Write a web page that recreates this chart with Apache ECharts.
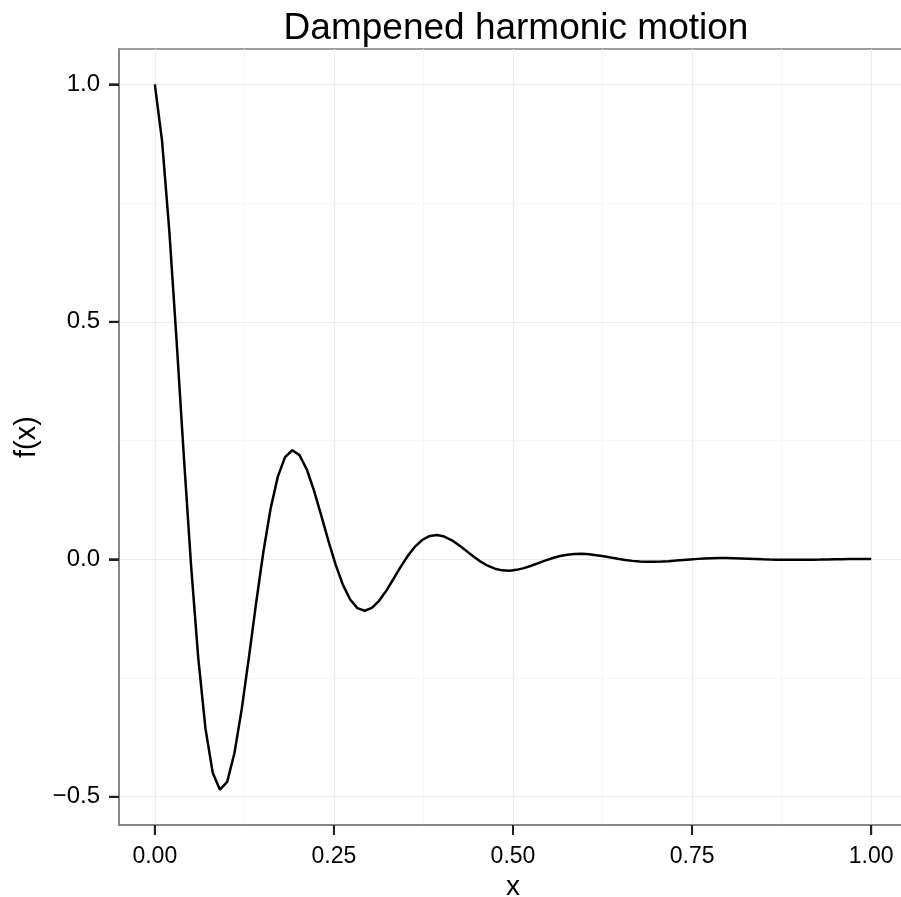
<!DOCTYPE html>
<html>
<head>
<meta charset="utf-8">
<script src="https://cdn.jsdelivr.net/npm/echarts@6/dist/echarts.min.js"></script>
<style>
html,body{margin:0;padding:0;background:#fff;overflow:hidden;}
#chart{width:901px;height:897px;}
</style>
</head>
<body>
<div id="chart"></div>
<script>
var titleText = 'Dampened harmonic motion';
var xName = 'x';
var yName = 'f(x)';

var xValues = [
  0.0000, 0.0101, 0.0202, 0.0303, 0.0404, 0.0505, 0.0606, 0.0707, 0.0808, 0.0909,
  0.1010, 0.1111, 0.1212, 0.1313, 0.1414, 0.1515, 0.1616, 0.1717, 0.1818, 0.1919,
  0.2020, 0.2121, 0.2222, 0.2323, 0.2424, 0.2525, 0.2626, 0.2727, 0.2828, 0.2929,
  0.3030, 0.3131, 0.3232, 0.3333, 0.3434, 0.3535, 0.3636, 0.3737, 0.3838, 0.3939,
  0.4040, 0.4141, 0.4242, 0.4343, 0.4444, 0.4545, 0.4646, 0.4747, 0.4848, 0.4949,
  0.5051, 0.5152, 0.5253, 0.5354, 0.5455, 0.5556, 0.5657, 0.5758, 0.5859, 0.5960,
  0.6061, 0.6162, 0.6263, 0.6364, 0.6465, 0.6566, 0.6667, 0.6768, 0.6869, 0.6970,
  0.7071, 0.7172, 0.7273, 0.7374, 0.7475, 0.7576, 0.7677, 0.7778, 0.7879, 0.7980,
  0.8081, 0.8182, 0.8283, 0.8384, 0.8485, 0.8586, 0.8687, 0.8788, 0.8889, 0.8990,
  0.9091, 0.9192, 0.9293, 0.9394, 0.9495, 0.9596, 0.9697, 0.9798, 0.9899, 1.0000
];

var fValues = [
  1.0000, 0.8808, 0.6921, 0.4622, 0.2193, -0.0109, -0.2076, -0.3563, -0.4493, -0.4852,
  -0.4686, -0.4084, -0.3166, -0.2070, -0.0923, 0.0153, 0.1062, 0.1740, 0.2151, 0.2295,
  0.2193, 0.1891, 0.1447, 0.0923, 0.0383, -0.0119, -0.0539, -0.0847, -0.1029, -0.1084,
  -0.1025, -0.0875, -0.0660, -0.0410, -0.0156, 0.0078, 0.0272, 0.0411, 0.0491, 0.0512,
  0.0479, 0.0404, 0.0300, 0.0182, 0.0062, -0.0047, -0.0136, -0.0199, -0.0234, -0.0241,
  -0.0223, -0.0187, -0.0137, -0.0080, -0.0024, 0.0027, 0.0068, 0.0096, 0.0112, 0.0114,
  0.0104, 0.0086, 0.0062, 0.0035, 0.0009, -0.0015, -0.0034, -0.0047, -0.0053, -0.0054,
  -0.0049, -0.0040, -0.0028, -0.0015, -0.0003, 0.0008, 0.0017, 0.0022, 0.0025, 0.0025,
  0.0022, 0.0018, 0.0013, 0.0007, 0.0001, -0.0004, -0.0008, -0.0011, -0.0012, -0.0012,
  -0.0011, -0.0008, -0.0006, -0.0003, 0.0000, 0.0002, 0.0004, 0.0005, 0.0006, 0.0006
];

var xTicks = [0, 0.25, 0.5, 0.75, 1];
var xTickLabels = ['0.00', '0.25', '0.50', '0.75', '1.00'];
var xMinorTicks = [0.125, 0.375, 0.625, 0.875];
var yTicks = [-0.5, 0, 0.5, 1];
var yTickLabels = ['\u22120.5', '0.0', '0.5', '1.0'];
var yMinorTicks = [-0.25, 0.25, 0.75];

var xRange = [-0.05, 1.05];
var yRange = [-0.5595, 1.0743];

var seriesData = xValues.map(function (x, i) { return [x, fValues[i]]; });

function labelFor(ticks, labels) {
  return function (v) {
    for (var i = 0; i < ticks.length; i++) {
      if (Math.abs(ticks[i] - v) < 1e-9) return labels[i];
    }
    return '';
  };
}

var FONT = 'Liberation Sans, Arial, Helvetica, sans-serif';
var MAJOR = '#ebebeb';
var MINOR = '#f7f7f7';
var BORDER = '#7f7f7f';
var TICK = '#222222';
var TICK_LEN = 10;
var TICK_W = 2;

var chart = echarts.init(document.getElementById('chart'), null, {renderer: 'canvas'});
chart.setOption({
  animation: false,
  backgroundColor: '#ffffff',
  title: {
    text: titleText,
    left: 511,
    top: 5,
    textAlign: 'center',
    textStyle: {fontFamily: FONT, fontSize: 37, fontWeight: 'normal', color: '#000'}
  },
  grid: {
    left: 119, top: 49, width: 788, height: 776,
    containLabel: false, outerBoundsMode: 'none',
    show: true, borderColor: BORDER, borderWidth: 1.5, backgroundColor: 'transparent'
  },
  xAxis: [
    {
      type: 'value', min: xRange[0], max: xRange[1], position: 'bottom',
      name: xName, nameLocation: 'middle', nameGap: 45,
      nameTextStyle: {fontFamily: FONT, fontSize: 28, color: '#000'},
      axisLine: {show: true, onZero: false, lineStyle: {color: BORDER, width: 1.5}},
      axisTick: {show: true, inside: false, length: TICK_LEN, customValues: xTicks, lineStyle: {color: TICK, width: TICK_W}},
      axisLabel: {show: true, margin: 20, customValues: xTicks, formatter: labelFor(xTicks, xTickLabels),
        fontFamily: FONT, fontSize: 23, color: '#000'},
      splitLine: {show: true, lineStyle: {color: MAJOR, width: 1.2}},
      z: 3
    },
    {
      type: 'value', min: xRange[0], max: xRange[1], position: 'bottom',
      axisLine: {show: false, onZero: false},
      axisTick: {show: false, customValues: xMinorTicks},
      axisLabel: {show: false},
      splitLine: {show: true, lineStyle: {color: MINOR, width: 1}},
      z: 0
    }
  ],
  yAxis: [
    {
      type: 'value', min: yRange[0], max: yRange[1], position: 'left',
      name: yName, nameLocation: 'middle', nameGap: 76, nameRotate: 90,
      nameTextStyle: {fontFamily: FONT, fontSize: 29, color: '#000'},
      axisLine: {show: true, onZero: false, lineStyle: {color: BORDER, width: 1.5}},
      axisTick: {show: true, inside: false, length: TICK_LEN, customValues: yTicks, lineStyle: {color: TICK, width: TICK_W}},
      axisLabel: {show: true, margin: 19, customValues: yTicks, formatter: labelFor(yTicks, yTickLabels),
        fontFamily: FONT, fontSize: 24, color: '#000'},
      splitLine: {show: true, lineStyle: {color: MAJOR, width: 1.2}},
      z: 3
    },
    {
      type: 'value', min: yRange[0], max: yRange[1], position: 'left',
      axisLine: {show: false, onZero: false},
      axisTick: {show: false, customValues: yMinorTicks},
      axisLabel: {show: false},
      splitLine: {show: true, lineStyle: {color: MINOR, width: 1}},
      z: 0
    }
  ],
  series: [
    {
      type: 'line',
      xAxisIndex: 0, yAxisIndex: 0,
      data: seriesData,
      showSymbol: false,
      symbol: 'none',
      smooth: false,
      lineStyle: {color: '#000', width: 2.5},
      z: 5
    },
    {
      type: 'custom',
      xAxisIndex: 0, yAxisIndex: 0,
      clip: false, silent: true, z: 6,
      data: xTicks.map(function (v) { return [v, yRange[0]]; }),
      renderItem: function (params, api) {
        var p = api.coord([api.value(0), api.value(1)]);
        return {type: 'line', shape: {x1: p[0], y1: p[1], x2: p[0], y2: p[1] + TICK_LEN},
          style: {stroke: TICK, lineWidth: TICK_W}};
      }
    },
    {
      type: 'custom',
      xAxisIndex: 0, yAxisIndex: 0,
      clip: false, silent: true, z: 6,
      data: yTicks.map(function (v) { return [xRange[0], v]; }),
      renderItem: function (params, api) {
        var p = api.coord([api.value(0), api.value(1)]);
        return {type: 'line', shape: {x1: p[0] - TICK_LEN, y1: p[1], x2: p[0], y2: p[1]},
          style: {stroke: TICK, lineWidth: TICK_W}};
      }
    }
  ]
});
</script>
</body>
</html>
